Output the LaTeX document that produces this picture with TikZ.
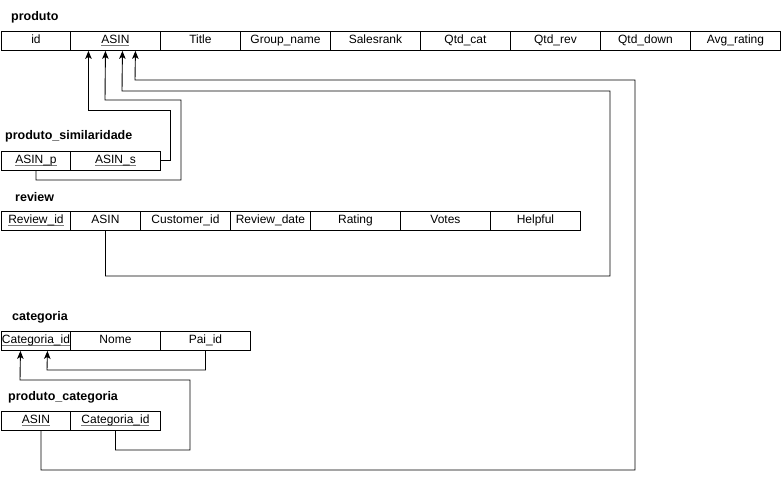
\documentclass[tikz,border=0pt]{standalone}
\usepackage{fontspec}
\setmainfont{Liberation Sans}
\usetikzlibrary{arrows.meta,calc}
\definecolor{erink}{HTML}{000000}
\definecolor{ergray}{HTML}{7A7A7A}
\newcommand{\pkey}[1]{\setbox0\hbox{#1}\rlap{\color{ergray}\rule[-1.8pt]{\wd0}{0.7pt}}\box0}
\tikzset{
  er cell/.style={draw=erink, line width=0.9pt, anchor=north west, inner sep=0pt, minimum height=19.5pt, text height=8.8pt, text depth=3pt, font=\fontsize{12}{14}\selectfont},
  er title/.style={anchor=west, inner sep=0pt, font=\fontsize{12.5}{14}\selectfont\bfseries},
  er link/.style={erink, line width=0.9pt, line join=miter, -{Stealth[length=8pt,width=6.5pt,inset=2pt]}},
}

\begin{document}
\begin{tikzpicture}[x=1pt, y=-1pt]
  \useasboundingbox (0,0) rectangle (781,479);

  % produto
  \node[er title] (produto-title) at (11,17) {produto};
  \node[er cell, minimum width=69pt] (produto-id) at (1,30.5) {id};
  \node[er cell, minimum width=90pt] (produto-asin) at (70,30.5) {\pkey{ASIN}};
  \node[er cell, minimum width=80pt] (produto-title2) at (160,30.5) {Title};
  \node[er cell, minimum width=90pt] (produto-group) at (240,30.5) {Group\_name};
  \node[er cell, minimum width=90pt] (produto-rank) at (330,30.5) {Salesrank};
  \node[er cell, minimum width=90pt] (produto-qcat) at (420,30.5) {Qtd\_cat};
  \node[er cell, minimum width=90pt] (produto-qrev) at (510,30.5) {Qtd\_rev};
  \node[er cell, minimum width=90pt] (produto-qdown) at (600,30.5) {Qtd\_down};
  \node[er cell, minimum width=90pt] (produto-avg) at (690,30.5) {Avg\_rating};

  % produto_similaridade
  \node[er title] (sim-title) at (5,136) {produto\_similaridade};
  \node[er cell, minimum width=69pt] (sim-asinp) at (1,150.5) {\pkey{ASIN\_p}};
  \node[er cell, minimum width=90pt] (sim-asins) at (70,150.5) {\pkey{ASIN\_s}};

  % review
  \node[er title] (review-title) at (15,197) {review};
  \node[er cell, minimum width=69pt] (review-id) at (1,210.5) {\pkey{Review\_id}};
  \node[er cell, minimum width=70pt] (review-asin) at (70,210.5) {ASIN};
  \node[er cell, minimum width=90pt] (review-cust) at (140,210.5) {Customer\_id};
  \node[er cell, minimum width=80pt] (review-date) at (230,210.5) {Review\_date};
  \node[er cell, minimum width=90pt] (review-rating) at (310,210.5) {Rating};
  \node[er cell, minimum width=90pt] (review-votes) at (400,210.5) {Votes};
  \node[er cell, minimum width=90pt] (review-helpful) at (490,210.5) {Helpful};

  % categoria
  \node[er title] (cat-title) at (12,317) {categoria};
  \node[er cell, minimum width=69pt] (cat-id) at (1,330.5) {\pkey{Categoria\_id}};
  \node[er cell, minimum width=90pt] (cat-nome) at (70,330.5) {Nome};
  \node[er cell, minimum width=90pt] (cat-pai) at (160,330.5) {Pai\_id};

  % produto_categoria
  \node[er title] (pc-title) at (8,397) {produto\_categoria};
  \node[er cell, minimum width=69pt] (pc-asin) at (1,410.5) {\pkey{ASIN}};
  \node[er cell, minimum width=90pt] (pc-catid) at (70,410.5) {\pkey{Categoria\_id}};

  % entry points
  \coordinate (produto-in1) at ($(produto-asin.south)+(-27,0)$);
  \coordinate (produto-in2) at ($(produto-asin.south)+(-10,0)$);
  \coordinate (produto-in3) at ($(produto-asin.south)+(7,0)$);
  \coordinate (produto-in4) at ($(produto-asin.south)+(20,0)$);
  \coordinate (cat-in1) at ($(cat-id.south)+(-15.5,0)$);
  \coordinate (cat-in2) at ($(cat-id.south)+(11.5,0)$);
  \coordinate (pc-asin-out) at ($(pc-asin.south)+(5,0)$);

  % links
  \draw[er link] (pc-asin-out) |- (635,470) |- (135,80) -- (produto-in4);
  \draw[er link] (review-asin.south) |- (610,276) |- (122,91) -- (produto-in3);
  \draw[er link] (sim-asinp.south) |- (181,180) |- (105,100) -- (produto-in2);
  \draw[er link] (sim-asins.east) -| (170,110) -| (produto-in1);
  \draw[er link] (cat-pai.south) |- (47,370) -- (cat-in2);
  \draw[er link] (pc-catid.south) |- (190,450) |- (20,380) -- (cat-in1);
\end{tikzpicture}
\end{document}
